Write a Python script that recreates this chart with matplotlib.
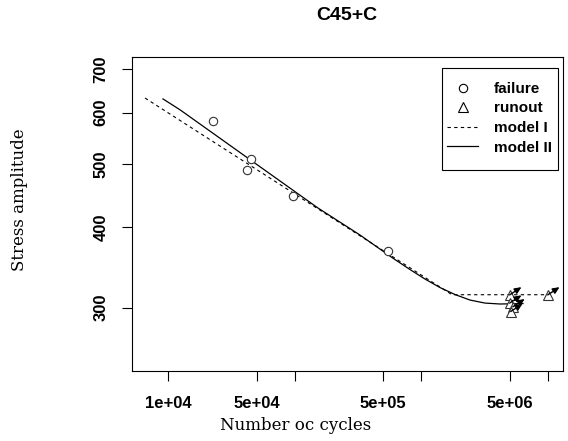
import matplotlib
matplotlib.use("Agg")
import matplotlib.pyplot as plt
from matplotlib.lines import Line2D
from matplotlib.patches import Rectangle

# ---- data ----
failure_N = [22500, 45100, 41700, 96200, 548000]
failure_S = [583, 509, 490, 446, 367]

runout_N = [5.0e6, 5.0e6, 5.3e6, 5.1e6, 1.0e7]
runout_S = [314, 305, 301, 296, 314]

model1_N = [6550, 1.75e6, 1.0e7]
model1_S = [632, 314.2, 314.2]

model2_N = [9080, 12400, 152500, 327600, 5.98e5, 8.15e5, 1.071e6, 1.407e6, 1.849e6,
            2.43e6, 3.193e6, 4.196e6, 6.377e6]
model2_S = [630, 606, 427.6, 388.5, 357.7, 343.6, 332.2, 322.3, 314.4,
            308.3, 305.0, 304.0, 304.5]

x_ticks = [1e4, 5e4, 1e5, 5e5, 1e6, 5e6, 1e7]
x_ticklabels = ["1e+04", "5e+04", "", "5e+05", "", "5e+06", ""]
y_ticks = [300, 400, 500, 600, 700]
y_ticklabels = ["300", "400", "500", "600", "700"]

title = "C45+C"
xlabel = "Number oc cycles"
ylabel = "Stress amplitude"
legend_labels = ["failure", "runout", "model I", "model II"]

# ---- figure ----
W, H = 568, 441
fig = plt.figure(figsize=(W / 100, H / 100), dpi=100)
ax_l, ax_r, ax_t, ax_b = 132.3, 563.3, 56.7, 371.0
ax = fig.add_axes([ax_l / W, 1 - ax_b / H, (ax_r - ax_l) / W, (ax_b - ax_t) / H])
ax.set_xscale("log")
ax.set_yscale("log")
ax.set_xlim(5193, 1.328e7)
ax.set_ylim(239.6, 732)

sans = "Liberation Sans"
serif = "DejaVu Serif"

ax.plot(model1_N, model1_S, color="black", lw=0.8, ls=(0, (3, 3)), zorder=2)
ax.plot(model2_N, model2_S, color="black", lw=0.9, ls="-", zorder=2)
ax.plot(failure_N, failure_S, ls="none", marker="o", ms=6, mfc="white",
        mec="#333333", mew=0.8, zorder=3)
ax.plot(runout_N, runout_S, ls="none", marker="^", ms=6.5, mfc="white",
        mec="#333333", mew=0.8, zorder=3)
for n, s in zip(runout_N, runout_S):
    ax.annotate("", xy=(n * 1.24, s * 1.028), xytext=(n, s),
                arrowprops=dict(arrowstyle="-|>,head_length=0.4,head_width=0.18",
                                color="black", lw=1.0, shrinkA=0, shrinkB=0),
                zorder=4)

ax.minorticks_off()
ax.set_xticks(x_ticks)
ax.set_xticklabels(x_ticklabels, fontfamily=sans, fontweight="bold", fontsize=12)
ax.set_yticks(y_ticks)
ax.set_yticklabels(y_ticklabels, fontfamily=sans, fontweight="bold", fontsize=12,
                   rotation=90, va="center")
ax.tick_params(axis="x", direction="out", length=7, width=0.8, pad=11)
ax.tick_params(axis="y", direction="out", length=7, width=0.8, pad=10)
for sp in ax.spines.values():
    sp.set_linewidth(0.8)

# legend (entries + hand-placed frame)
def fx(px):
    return (px - ax_l) / (ax_r - ax_l)

def fy(py):
    return (ax_b - py) / (ax_b - ax_t)

handles = [
    Line2D([], [], ls="none", marker="o", ms=6, mfc="white", mec="black", mew=0.8),
    Line2D([], [], ls="none", marker="^", ms=6.5, mfc="white", mec="black", mew=0.8),
    Line2D([], [], color="black", lw=0.8, ls=(0, (3, 3))),
    Line2D([], [], color="black", lw=0.9),
]
leg = ax.legend(handles, legend_labels, loc="upper left",
                bbox_to_anchor=(fx(446.7), fy(82.0)), frameon=False,
                borderpad=0, borderaxespad=0, labelspacing=0.36,
                handlelength=2.07, handletextpad=1.03,
                prop=dict(family=sans, weight="bold", size=11))
ax.add_patch(Rectangle((fx(441.7), fy(170)), fx(558.3) - fx(441.7), fy(68.3) - fy(170),
                       transform=ax.transAxes, fill=False, edgecolor="black",
                       lw=0.8, zorder=5))

fig.text(347 / W, 1 - 16 / H, title, ha="center", va="center",
         fontfamily=sans, fontweight="bold", fontsize=14)
fig.text(296 / W, 1 - 426 / H, xlabel, ha="center", va="center",
         fontfamily=serif, fontsize=12)
fig.text(20 / W, 1 - 200 / H, ylabel, ha="center", va="center", rotation=90,
         fontfamily=serif, fontsize=12)

fig.savefig("out.png", dpi=100)
